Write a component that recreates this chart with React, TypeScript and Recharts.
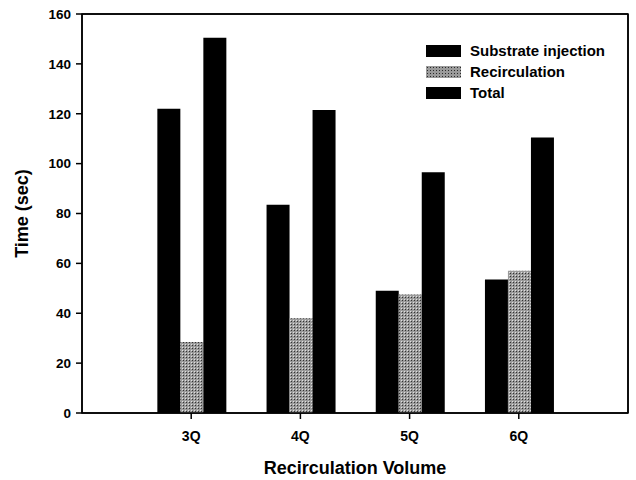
import React from 'react';
import { BarChart, Bar, XAxis, YAxis, Label, ReferenceLine, ReferenceArea, Legend } from 'recharts';

const categories = ['3Q', '4Q', '5Q', '6Q'];
const substrateInjection = [122, 83.5, 49, 53.5];
const recirculation = [28.5, 38, 47.5, 57];
const total = [150.5, 121.5, 96.5, 110.5];
const yTicks = [0, 20, 40, 60, 80, 100, 120, 140, 160];
const legendLabels = ['Substrate injection', 'Recirculation', 'Total'];

const xPositions = categories.map((_, i) => i + 1);
const xDomain: [number, number] = [0, categories.length + 1];
const yMax = 160;

const data = categories.map((c, i) => ({
  name: c,
  pos: xPositions[i],
  substrate: substrateInjection[i],
  recirc: recirculation[i],
  total: total[i],
}));

const FONT = 'Liberation Sans, Arial, Helvetica, sans-serif';

const stippleCss: React.CSSProperties = {
  backgroundColor: '#9a9a9a',
  backgroundImage: 'radial-gradient(#2a2a2a 0.7px, transparent 0.8px)',
  backgroundSize: '3px 3px',
};

const LegendContent = () => (
  <div style={{ fontFamily: FONT, fontWeight: 'bold', fontSize: 15, color: '#000', lineHeight: '21px' }}>
    {legendLabels.map((label, i) => (
      <div key={label} style={{ display: 'flex', alignItems: 'center', height: 21, whiteSpace: 'nowrap' }}>
        <div
          style={{
            width: 35,
            height: 12,
            marginRight: 9,
            ...(i === 1 ? stippleCss : { backgroundColor: '#000' }),
          }}
        />
        <span>{label}</span>
      </div>
    ))}
  </div>
);

export default function App() {
  return (
    <div style={{ position: 'absolute', left: 0, top: 0 }}>
      <BarChart
        width={636}
        height={480}
        data={data}
        margin={{ top: 14, right: 8, bottom: 0, left: 20 }}
        barCategoryGap="19%"
        barGap={0}
      >
        <defs>
          <pattern id="stipple" width="3" height="3" patternUnits="userSpaceOnUse">
            <rect width="3" height="3" fill="#9a9a9a" />
            <rect width="1" height="1" fill="#333" />
            <rect x="2" y="2" width="1" height="1" fill="#e0e0e0" />
          </pattern>
        </defs>
        <ReferenceArea
          x1={xDomain[0]}
          x2={xDomain[1]}
          y1={0}
          y2={yMax}
          fill="rgba(255,255,255,0)"
          stroke="#000"
          strokeWidth={1.5}
        />
        <XAxis
          dataKey="pos"
          type="number"
          domain={xDomain}
          ticks={xPositions}
          interval={0}
          tickFormatter={(v: number) => categories[v - 1] ?? ''}
          height={67}
          stroke="#000"
          strokeWidth={1.5}
          tickSize={6}
          tickMargin={12}
          tick={{ fill: '#000', fontSize: 14, fontWeight: 'bold', fontFamily: FONT }}
        >
          <Label
            value="Recirculation Volume"
            position="insideBottom"
            offset={6}
            style={{ fill: '#000', fontSize: 18, fontWeight: 'bold', fontFamily: FONT }}
          />
        </XAxis>
        <YAxis
          domain={[0, yMax]}
          ticks={yTicks}
          width={62}
          stroke="#000"
          strokeWidth={1.5}
          tickSize={6}
          tickMargin={5}
          interval={0}
          tick={{ fill: '#000', fontSize: 13.5, fontWeight: 'bold', fontFamily: FONT }}
        >
          <Label
            value="Time (sec)"
            angle={-90}
            position="insideLeft"
            offset={2}
            style={{ textAnchor: 'middle', fill: '#000', fontSize: 18, fontWeight: 'bold', fontFamily: FONT }}
          />
        </YAxis>
        <Bar dataKey="substrate" fill="#000" isAnimationActive={false} />
        <Bar dataKey="recirc" fill="url(#stipple)" isAnimationActive={false} />
        <Bar dataKey="total" fill="#000" isAnimationActive={false} />
        <ReferenceLine y={yMax} stroke="#000" strokeWidth={1.5} />
        <ReferenceLine x={xDomain[1]} stroke="#000" strokeWidth={1.5} />
        <Legend
          layout="vertical"
          align="center"
          verticalAlign="middle"
          content={<LegendContent />}
          wrapperStyle={{ left: 426, top: 40, width: 205 }}
        />
      </BarChart>
    </div>
  );
}
